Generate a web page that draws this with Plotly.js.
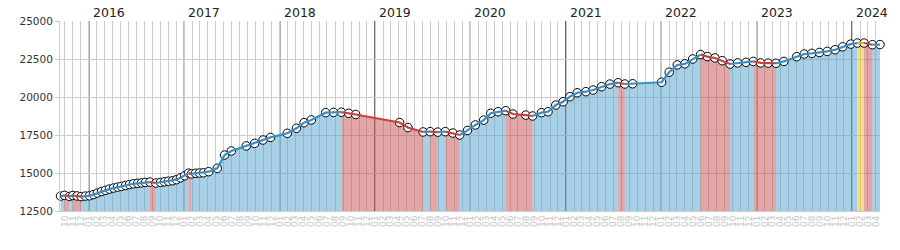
<!DOCTYPE html>
<html>
<head>
<meta charset="utf-8">
<script src="https://cdn.plot.ly/plotly-3.0.1.min.js"></script>
<style>html,body{margin:0;padding:0;background:#fff;}#chart{width:900px;height:250px;}</style>
</head>
<body>
<div id="chart"></div>
<script>
// Observation dates
const dates = [
 '2015-09-15','2015-09-30','2015-10-19','2015-11-01','2015-11-17','2015-12-03','2015-12-19',
 '2016-01-04','2016-01-19','2016-02-03','2016-02-19','2016-03-05','2016-03-20','2016-04-05','2016-04-20',
 '2016-05-05','2016-05-21','2016-06-05','2016-06-20','2016-07-06','2016-07-21','2016-08-05','2016-08-22',
 '2016-09-14','2016-10-02','2016-10-17','2016-11-01','2016-11-17','2016-12-02','2016-12-17',
 '2017-01-02','2017-01-17','2017-01-28','2017-02-13','2017-02-28','2017-03-15','2017-04-04','2017-05-07',
 '2017-06-04','2017-06-30','2017-08-26','2017-09-27','2017-10-29','2017-11-27',
 '2018-01-30','2018-03-06','2018-04-04','2018-05-02','2018-06-26','2018-07-26','2018-08-25','2018-09-22','2018-10-19',
 '2019-04-05','2019-05-07','2019-07-04','2019-07-31','2019-08-29','2019-09-27','2019-10-26','2019-11-21','2019-12-21',
 '2020-01-20','2020-02-21','2020-03-19','2020-04-16','2020-05-15','2020-06-12','2020-07-31','2020-08-26',
 '2020-09-29','2020-10-24','2020-11-23','2020-12-21',
 '2021-01-16','2021-02-13','2021-03-18','2021-04-15','2021-05-17','2021-06-18','2021-07-20','2021-08-14','2021-09-13',
 '2022-01-02','2022-01-31','2022-03-03','2022-04-01','2022-05-01','2022-05-31','2022-06-26','2022-07-25',
 '2022-08-22','2022-09-21','2022-10-20','2022-11-21','2022-12-19',
 '2023-01-16','2023-02-14','2023-03-16','2023-04-15','2023-06-03','2023-07-02','2023-07-31','2023-08-29',
 '2023-09-28','2023-10-28','2023-11-26','2023-12-27',
 '2024-01-21','2024-02-16','2024-03-19','2024-04-17'
];
// Observed values
const prices = [
 13480,13530,13460,13520,13490,13450,13480,
 13500,13580,13680,13780,13860,13940,14010,14070,
 14120,14180,14240,14290,14320,14350,14380,14400,
 14340,14380,14420,14460,14490,14560,14680,
 14820,14990,14940,14980,15000,15010,15085,15310,
 16180,16450,16780,16950,17170,17340,
 17610,17940,18310,18490,18970,18990,19000,18930,18850,
 18320,17990,17700,17720,17690,17720,17630,17500,17800,
 18160,18480,18930,19030,19100,18880,18810,18750,
 18970,19030,19470,19690,
 20020,20280,20350,20460,20680,20850,20940,20855,20870,
 20970,21630,22110,22180,22500,22790,22660,22570,
 22390,22170,22240,22280,22340,
 22240,22230,22220,22340,22650,22830,22870,22930,
 23000,23110,23300,23480,
 23550,23550,23440,23450
];
const years = ['2016','2017','2018','2019','2020','2021','2022','2023','2024'];

const fillColors = {up:'rgba(80,160,205,0.5)', down:'rgba(200,78,78,0.5)', flat:'rgba(232,188,30,0.5)'};
const lineColors = {up:'#3a8ec6', down:'#c8403c', flat:'#e0b020'};

function cls(a,b){ return b>a?'up':(b<a?'down':'flat'); }
// group consecutive segments of the same direction
const runs = [];
for (let i=0;i<prices.length-1;i++){
  const c = cls(prices[i],prices[i+1]);
  if (runs.length && runs[runs.length-1].c===c && runs[runs.length-1].end===i){
    runs[runs.length-1].end = i+1;
  } else runs.push({c:c,start:i,end:i+1});
}
const traces = [];
runs.forEach(r=>{
  traces.push({type:'scatter',mode:'lines',x:dates.slice(r.start,r.end+1),y:prices.slice(r.start,r.end+1),
    fill:'tozeroy',fillcolor:fillColors[r.c],line:{width:0},hoverinfo:'skip'});
});
traces.push({type:'scatter',mode:'markers',x:dates,y:prices,cliponaxis:false,
  marker:{symbol:'circle',size:8.5,color:'#ffffff',line:{color:'#000',width:1}}});
runs.forEach(r=>{
  traces.push({type:'scatter',mode:'lines',x:dates.slice(r.start,r.end+1),y:prices.slice(r.start,r.end+1),
    line:{color:lineColors[r.c],width:2.2},hoverinfo:'skip'});
});

const shapes = years.map(y=>({type:'line',xref:'x',yref:'paper',x0:y+'-01-01',x1:y+'-01-01',y0:0,y1:1,
  line:{color:'#000',width:1.2},layer:'between'}));
const annotations = years.map(y=>({xref:'x',yref:'paper',x:y+'-01-01',y:1,xanchor:'left',yanchor:'bottom',
  xshift:2,yshift:-1,text:y,showarrow:false,font:{family:'DejaVu Sans',size:12.5,color:'#222'}}));

const layout = {
  width:900,height:250,margin:{l:60,r:20,t:21,b:39},
  paper_bgcolor:'#fff',plot_bgcolor:'#fff',showlegend:false,
  font:{family:'DejaVu Sans'},
  xaxis:{type:'date',range:['2015-09-13','2024-04-17'],tick0:'2015-10-01',dtick:'M1',tickformat:'%m',
    tickangle:-90,ticks:'',showgrid:true,gridcolor:'#ccc',gridwidth:1,showline:true,linecolor:'#ccc',
    tickfont:{family:'DejaVu Sans',size:9,color:'#c4c4c4'},zeroline:false,fixedrange:true},
  yaxis:{range:[12500,25000],dtick:2500,tick0:12500,tickformat:'d',ticks:'outside',ticklen:4,tickcolor:'#ccc',
    showgrid:true,gridcolor:'#ccc',showline:true,linecolor:'#ccc',zeroline:false,
    tickfont:{family:'DejaVu Sans',size:10.5,color:'#333'},fixedrange:true},
  shapes:shapes,annotations:annotations
};
Plotly.newPlot('chart',traces,layout,{displayModeBar:false,staticPlot:true});
</script>
</body>
</html>
